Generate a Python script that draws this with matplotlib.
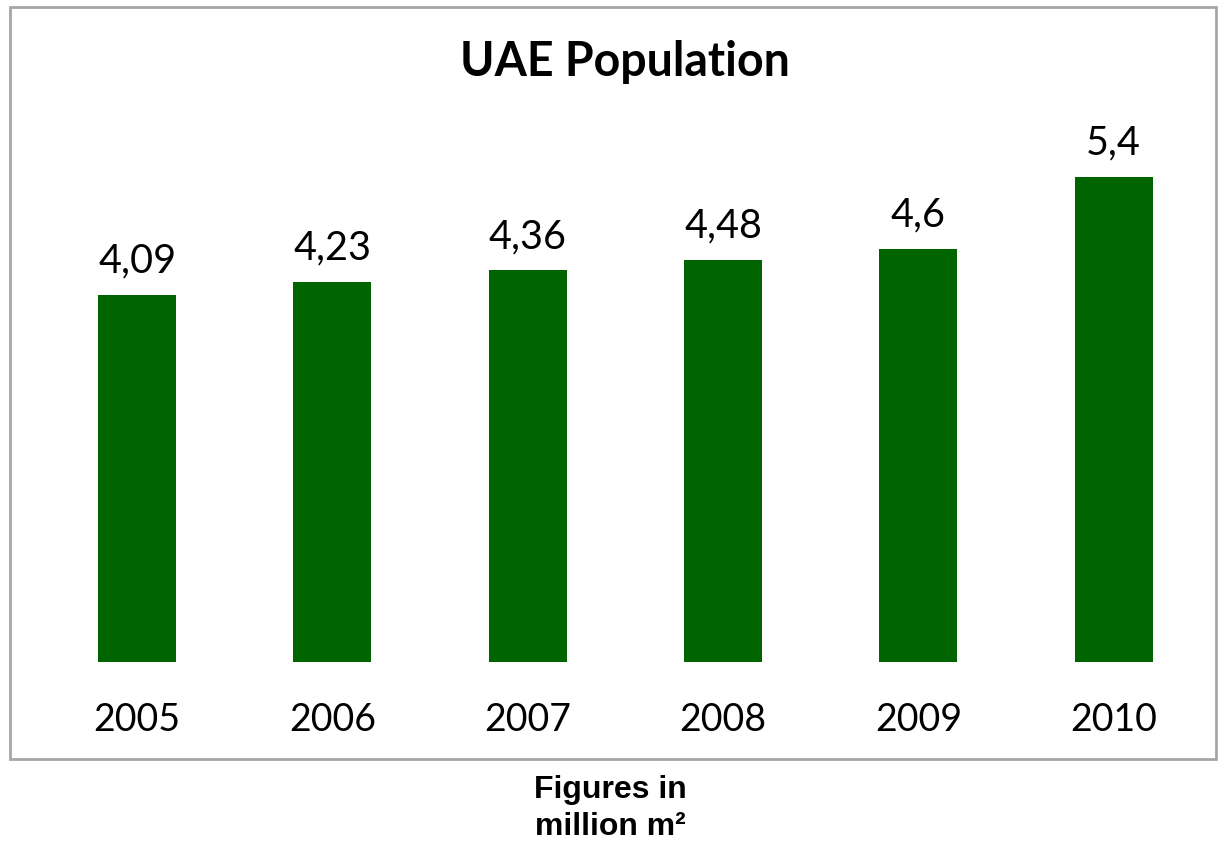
import matplotlib
matplotlib.use("Agg")
import matplotlib.pyplot as plt
from matplotlib.patches import Rectangle

years = ["2005", "2006", "2007", "2008", "2009", "2010"]
population = [4.09, 4.23, 4.36, 4.48, 4.6, 5.4]
labels = ["4,09", "4,23", "4,36", "4,48", "4,6", "5,4"]

fig = plt.figure(figsize=(12.2, 8.41), dpi=100)
fig.patch.set_facecolor("white")

# chart frame
frame = Rectangle((0.0082, 0.0975), 0.9885, 0.8942, transform=fig.transFigure,
                  fill=False, edgecolor="#a6a6a6", linewidth=2)
fig.patches.append(frame)

ax = fig.add_axes([0.0323, 0.2128, 0.9606, 0.641])
x = range(len(years))
bars = ax.bar(x, population, width=0.4, color="#006400")
ax.set_xlim(-0.5, len(years) - 0.5)
ax.set_ylim(0, 6)
for b, lab in zip(bars, labels):
    ax.text(b.get_x() + b.get_width() / 2, b.get_height() + 0.17, lab,
            ha="center", va="bottom", fontsize=28.5, family="Lato")
for s in ax.spines.values():
    s.set_visible(False)
ax.set_yticks([])
ax.set_xticks(list(x))
ax.set_xticklabels(years, fontsize=27, family="Lato")
ax.tick_params(axis="x", length=0, pad=29)

fig.text(0.5123, 0.926, "UAE Population", ha="center", va="center",
         fontsize=33.5, fontweight="bold", family="Lato")
fig.text(0.5, 0.039, "Figures in\nmillion m²", ha="center", va="center",
         fontsize=23, fontweight="bold", family="Liberation Sans", linespacing=1.32)

fig.savefig("out.png", dpi=100)
